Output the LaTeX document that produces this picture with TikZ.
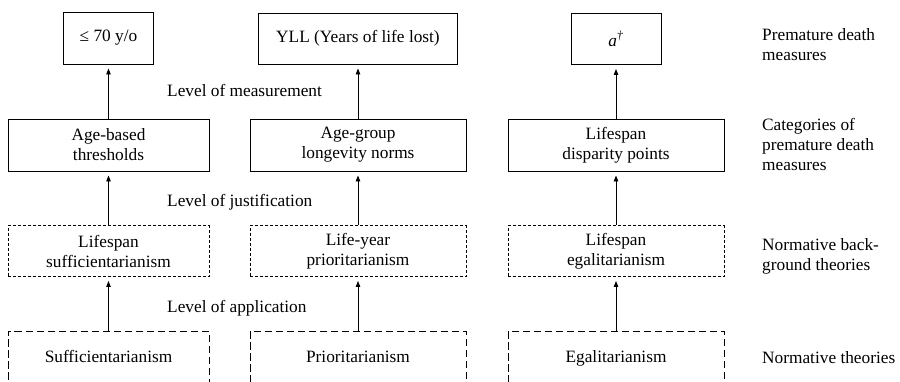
\documentclass[tikz,border=0pt]{standalone}
\usepackage{fontspec}
\setmainfont{Liberation Serif}
\usetikzlibrary{arrows.meta}
\begin{document}
\begin{tikzpicture}[x=1pt,y=-1pt,
  every node/.style={font=\fontsize{17.3}{20}\selectfont, inner sep=0pt},
  box/.style={draw, line width=0.9pt, align=center},
  solidbox/.style={box},
  dotbox/.style={box, dash pattern=on 3pt off 2pt},
  dashbox/.style={box, dash pattern=on 7.5pt off 3.5pt, text height=13pt, text depth=2pt},
  conn/.style={line width=0.9pt, -{Triangle[length=6pt,width=4.5pt]}, shorten >=4pt},
  lvl/.style={anchor=base west},
  side/.style={anchor=base west, align=left}]
\useasboundingbox (0,0) rectangle (900,381);
\clip (0,0) rectangle (900,381);
% row 1
\node[solidbox, minimum width=90pt, minimum height=52pt] (m1) at (108.5,38) {≤ 70 y/o};
\node[solidbox, minimum width=199pt, minimum height=51pt] (m2) at (358,38.5) {YLL (Years of life lost)};
\node[solidbox, minimum width=90pt, minimum height=51pt] (m3) at (616,39) {\textit{a}\textsuperscript{\textit{†}}};
% row 2
\node[solidbox, minimum width=201pt, minimum height=52pt] (c1) at (108.5,145) {Age-based\\thresholds};
\node[solidbox, minimum width=216pt, minimum height=52pt] (c2) at (358,145) {Age-group\\longevity norms};
\node[solidbox, minimum width=216pt, minimum height=52pt] (c3) at (616,145) {Lifespan\\disparity points};
% row 3
\node[dotbox, minimum width=201pt, minimum height=51pt] (b1) at (108.5,251) {Lifespan\\sufficientarianism};
\node[dotbox, minimum width=216pt, minimum height=51pt] (b2) at (358,251) {Life-year\\prioritarianism};
\node[dotbox, minimum width=216pt, minimum height=51pt] (b3) at (616,251) {Lifespan\\egalitarianism};
% row 4
\node[dashbox, minimum width=201pt, minimum height=52pt] (t1) at (108.5,357) {Sufficientarianism};
\node[dashbox, minimum width=216pt, minimum height=52pt] (t2) at (358,357) {Prioritarianism};
\node[dashbox, minimum width=216pt, minimum height=52pt] (t3) at (616,357) {Egalitarianism};
% connectors
\foreach \i in {1,2,3} {
  \draw[conn] (t\i.north) -- (b\i.south);
  \draw[conn] (b\i.north) -- (c\i.south);
  \draw[conn] (c\i.north) -- (m\i.south);
}
% level labels
\node[lvl] (lm) at (167,96) {Level of measurement};
\node[lvl] (lj) at (167,206) {Level of justification};
\node[lvl] (la) at (167,312) {Level of application};
% side labels (base = last line)
\node[side] (s1) at (762,60) {Premature death\\measures};
\node[side] (s2) at (762,170) {Categories of\\premature death\\measures};
\node[side] (s3) at (762,270) {Normative back-\\ground theories};
\node[side] (s4) at (762,363) {Normative theories};
\end{tikzpicture}
\end{document}
